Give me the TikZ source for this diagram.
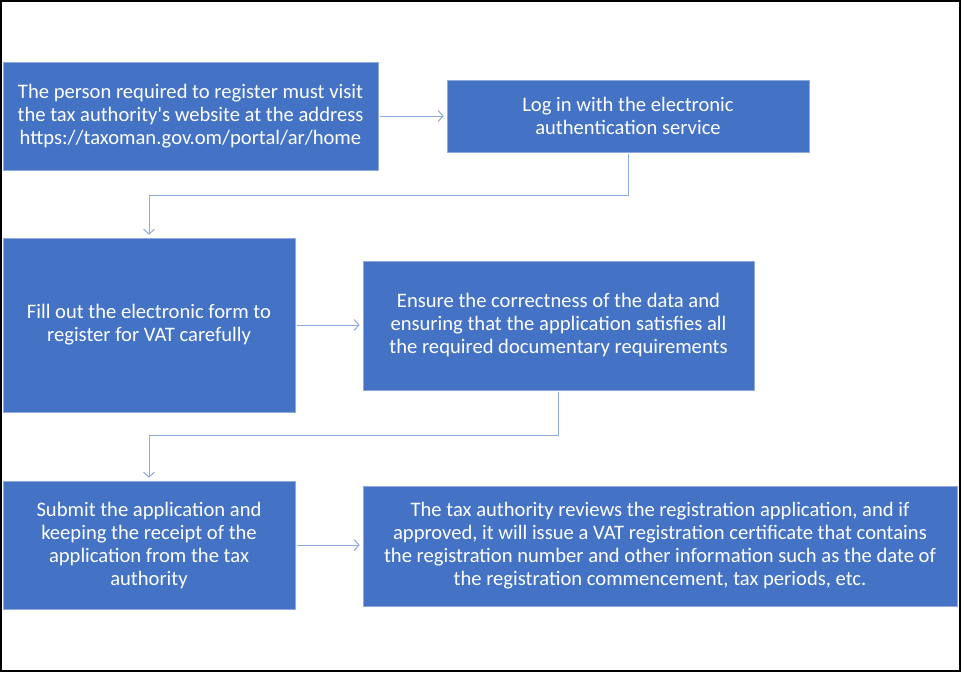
\documentclass[tikz,border=0pt]{standalone}
\usepackage{fontspec}
\setmainfont{Carlito}[Ligatures=TeXOff]
\usetikzlibrary{arrows.meta}
\definecolor{boxblue}{HTML}{4472C4}
\definecolor{linkblue}{HTML}{8FAADC}
\begin{document}
\begin{tikzpicture}[x=1pt,y=-1pt,
  stepbox/.style={fill=boxblue, draw=linkblue, line width=0.6pt, text=white, align=center, inner sep=0pt, font=\fontsize{20.6}{23}\selectfont},
  link/.style={draw=linkblue, line width=1pt, shorten >=3pt, shorten <=2pt, -{Straight Barb[length=5pt,width=11pt]}}]
\useasboundingbox (0,0) rectangle (961,672);
\fill[white] (0,0) rectangle (961,672);
\draw[black, line width=2pt] (1,1) rectangle (960,671);
\node[stepbox, minimum width=375pt, minimum height=108pt] (a) at (190.5,116) {The person required to register must visit\\the tax authority's website at the address\\https://taxoman.gov.om/portal/ar/home};
\node[stepbox, minimum width=362pt, minimum height=72pt] (b) at (628,116) {Log in with the electronic\\authentication service};
\node[stepbox, minimum width=292pt, minimum height=174pt] (c) at (149,325) {Fill out the electronic form to\\register for VAT carefully};
\node[stepbox, minimum width=391pt, minimum height=129pt] (d) at (558.5,325.5) {Ensure the correctness of the data and\\ensuring that the application satisfies all\\the required documentary requirements};
\node[stepbox, minimum width=292pt, minimum height=128pt] (e) at (149,545) {Submit the application and\\keeping the receipt of the\\application from the tax\\authority};
\node[stepbox, minimum width=594pt, minimum height=120pt] (f) at (660,546) {The tax authority reviews the registration application, and if\\approved, it will issue a VAT registration certificate that contains\\the registration number and other information such as the date of\\the registration commencement, tax periods, etc.};
\draw[link] (a) -- (b);
\draw[link] (b.south) -- ++(0,43) -| (c.north);
\draw[link] (c.east) -- (c.east -| d.west);
\draw[link] (d.south) -- ++(0,45) -| (e.north);
\draw[link] (e.east) -- (e.east -| f.west);
\end{tikzpicture}
\end{document}
